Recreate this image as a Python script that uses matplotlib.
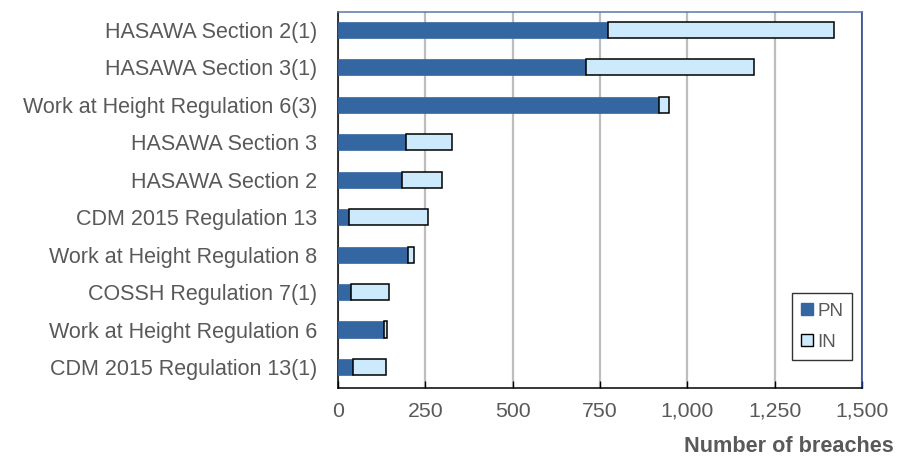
import matplotlib.pyplot as plt
from matplotlib.lines import Line2D

plt.rcParams['font.family'] = ['Liberation Sans', 'DejaVu Sans']

categories = [
    'HASAWA Section 2(1)',
    'HASAWA Section 3(1)',
    'Work at Height Regulation 6(3)',
    'HASAWA Section 3',
    'HASAWA Section 2',
    'CDM 2015 Regulation 13',
    'Work at Height Regulation 8',
    'COSSH Regulation 7(1)',
    'Work at Height Regulation 6',
    'CDM 2015 Regulation 13(1)',
]
pn = [773, 710, 920, 195, 183, 32, 201, 36, 132, 43]
in_ = [647, 481, 27, 131, 115, 225, 18, 110, 7, 94]
xticks = [0, 250, 500, 750, 1000, 1250, 1500]

dark = '#3466a2'
light = '#cceafc'
grey = '#595959'

fig = plt.figure(figsize=(8.97, 4.57), dpi=100)
ax = fig.add_axes([0.3768, 0.151, 0.5842, 0.823])

y = list(range(len(categories)))
ax.barh(y, pn, height=0.43, color=dark, edgecolor=dark, linewidth=0.5, zorder=3)
ax.barh(y, in_, left=pn, height=0.43, color=light, edgecolor='black', linewidth=1.1, zorder=3)

ax.set_xlim(0, 1500)
ax.set_ylim(9.56, -0.48)
ax.set_xticks(xticks)
ax.set_xticklabels([f'{v:,}' for v in xticks])
ax.set_yticks(y)
ax.set_yticklabels(categories)

ax.grid(axis='x', color='#bdbdbd', linewidth=1.6, zorder=0)
ax.tick_params(axis='x', direction='in', length=5, width=1, colors='black',
               labelcolor=grey, labelsize=15.3, pad=10)
ax.tick_params(axis='y', length=0, labelcolor=grey, labelsize=15.5, pad=15)

for side in ['left', 'bottom']:
    ax.spines[side].set_color('black')
    ax.spines[side].set_linewidth(1.1)
ax.spines['top'].set_color('#5a78a8')
ax.spines['right'].set_color('#1f3c8c')
ax.spines['top'].set_linewidth(1.1)
ax.spines['right'].set_linewidth(1.1)

fig.text(0.996, 0.011, 'Number of breaches', ha='right', va='baseline',
         fontsize=15.6, fontweight='bold', color=grey)

handles = [
    Line2D([], [], marker='s', linestyle='none', markersize=8,
           markerfacecolor=dark, markeredgecolor=dark),
    Line2D([], [], marker='s', linestyle='none', markersize=8,
           markerfacecolor=light, markeredgecolor='black'),
]
leg = ax.legend(handles, ['PN', 'IN'], loc='lower left', bbox_to_anchor=(0.866, 0.074),
                frameon=True, fancybox=False, edgecolor='black', fontsize=13.5,
                handlelength=0.6, handletextpad=0.25, labelspacing=0.75,
                borderpad=0.5, borderaxespad=0)
leg.get_frame().set_linewidth(1.0)
for t in leg.get_texts():
    t.set_color(grey)

fig.savefig('out.png', dpi=100)
